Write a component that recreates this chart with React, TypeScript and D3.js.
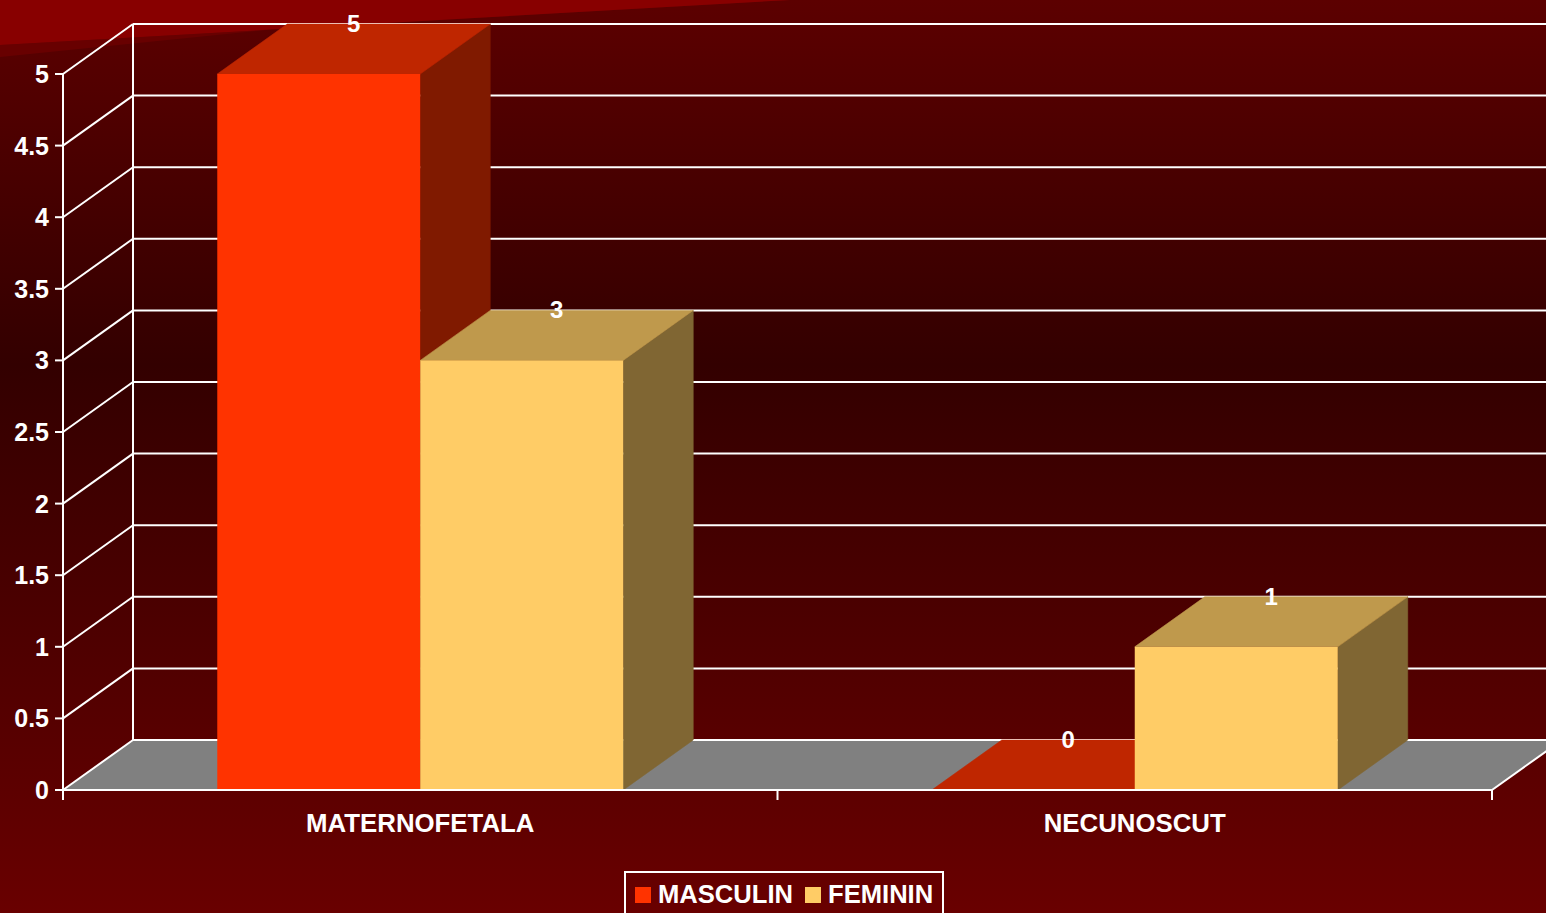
import React from "react";
import * as d3 from "d3";

const categories = ["MATERNOFETALA", "NECUNOSCUT"];
const series = ["MASCULIN", "FEMININ"];
const masculinValues = [5, 0];
const femininValues = [3, 1];
const yTicks = [0, 0.5, 1, 1.5, 2, 2.5, 3, 3.5, 4, 4.5, 5];

const W = 1546;
const H = 913;
const DX = 70;
const DY = -50;
const FONT = "'Liberation Sans', Arial, sans-serif";

const faceColors: Record<string, { front: string; top: string; side: string }> = {
  MASCULIN: { front: "#FF3300", top: "#BF2600", side: "#801A00" },
  FEMININ: { front: "#FFCC66", top: "#BF994C", side: "#806633" },
};

export default function App() {
  const x = d3.scaleBand<string>().domain(categories).range([63, 1492]);
  const y = d3.scaleLinear().domain([0, 5]).range([790, 74]);
  const inner = d3
    .scaleBand<string>()
    .domain(series)
    .range([0, x.bandwidth()])
    .paddingInner(0)
    .paddingOuter(0.76);

  const valuesBySeries: Record<string, number[]> = {
    MASCULIN: masculinValues,
    FEMININ: femininValues,
  };

  const y0 = y(0);
  const xL = 63;
  const xR = 1492;
  const bars: JSX.Element[] = [];
  const labels: JSX.Element[] = [];
  categories.forEach((c, ci) => {
    series.forEach((s) => {
      const v = valuesBySeries[s][ci];
      const bx = (x(c) as number) + (inner(s) as number);
      const bw = inner.bandwidth();
      const ty = y(v);
      const col = faceColors[s];
      const key = `${c}-${s}`;
      bars.push(
        <g key={key}>
          {v > 0 && (
            <polygon
              points={`${bx + bw},${ty} ${bx + bw + DX},${ty + DY} ${bx + bw + DX},${y0 + DY} ${bx + bw},${y0}`}
              fill={col.side}
              stroke={col.side}
              strokeWidth={0.6}
            />
          )}
          <polygon
            points={`${bx},${ty} ${bx + bw},${ty} ${bx + bw + DX},${ty + DY} ${bx + DX},${ty + DY}`}
            fill={col.top}
            stroke={col.top}
            strokeWidth={0.6}
          />
          {v > 0 && (
            <rect x={bx} y={ty} width={bw} height={y0 - ty} fill={col.front} />
          )}
        </g>
      );
      labels.push(
        <text
          key={key + "-l"}
          x={bx + bw / 2 + DX / 2}
          y={ty + DY + 8}
          textAnchor="middle"
          fill="#ffffff"
          fontFamily={FONT}
          fontWeight="bold"
          fontSize={24}
        >
          {v}
        </text>
      );
    });
  });

  return (
    <svg
      width={W}
      height={H}
      style={{ position: "fixed", left: 0, top: 0, display: "block" }}
    >
      <defs>
        <linearGradient id="bg" x1="0" y1="0" x2="0" y2="1">
          <stop offset="0" stopColor="#5c0000" />
          <stop offset="0.4" stopColor="#330000" />
          <stop offset="1" stopColor="#690000" />
        </linearGradient>
      </defs>
      <rect x={0} y={0} width={W} height={H} fill="url(#bg)" />
      <polygon points="0,45 790,0 560,0 0,57" fill="#680000" />
      <polygon points="0,0 790,0 0,45" fill="#880000" />

      {/* floor */}
      <polygon
        points={`${xL},${y0} ${xR},${y0} ${xR + DX},${y0 + DY} ${xL + DX},${y0 + DY}`}
        fill="#808080"
      />

      {/* back wall gridlines */}
      {yTicks.map((t) => (
        <line
          key={"g" + t}
          x1={xL + DX}
          x2={W + 20}
          y1={y(t) + DY}
          y2={y(t) + DY}
          stroke="#ffffff"
          strokeWidth={2}
        />
      ))}
      {/* left wall */}
      <line x1={xL + DX} x2={xL + DX} y1={y(5) + DY} y2={y0 + DY} stroke="#fff" strokeWidth={2} />
      {yTicks.map((t) => (
        <line
          key={"d" + t}
          x1={xL}
          y1={y(t)}
          x2={xL + DX}
          y2={y(t) + DY}
          stroke="#fff"
          strokeWidth={2}
        />
      ))}
      {/* floor right edge */}
      <line x1={xR} y1={y0} x2={xR + DX} y2={y0 + DY} stroke="#fff" strokeWidth={2} />

      {bars}

      {/* front axis */}
      <line x1={xL} x2={xL} y1={y(5)} y2={y0 + 10} stroke="#fff" strokeWidth={2} />
      <line x1={xL} x2={xR} y1={y0} y2={y0} stroke="#fff" strokeWidth={2} />
      {yTicks.map((t) => (
        <g key={"t" + t}>
          <line x1={xL - 8} x2={xL} y1={y(t)} y2={y(t)} stroke="#fff" strokeWidth={2} />
          <text
            x={xL - 14}
            y={y(t) + 9}
            textAnchor="end"
            fill="#fff"
            fontFamily={FONT}
            fontWeight="bold"
            fontSize={25}
          >
            {t}
          </text>
        </g>
      ))}
      {[xL, ...categories.map((c) => (x(c) as number) + x.bandwidth())].map((px, i) => (
        <line key={"ct" + i} x1={px} x2={px} y1={y0} y2={y0 + 10} stroke="#fff" strokeWidth={2} />
      ))}
      {categories.map((c) => (
        <text
          key={"cl" + c}
          x={(x(c) as number) + x.bandwidth() / 2}
          y={y0 + 42}
          textAnchor="middle"
          fill="#fff"
          fontFamily={FONT}
          fontWeight="bold"
          fontSize={25.8}
        >
          {c}
        </text>
      ))}

      {labels}

      {/* legend */}
      <rect x={625} y={872} width={318} height={60} fill="none" stroke="#fff" strokeWidth={2} />
      {series.map((s, i) => {
        const lx = i === 0 ? 635 : 805;
        return (
          <g key={"lg" + s}>
            <rect x={lx} y={887} width={16} height={16} fill={faceColors[s].front} />
            <text
              x={lx + 23}
              y={903}
              fill="#fff"
              fontFamily={FONT}
              fontWeight="bold"
              fontSize={25.6}
            >
              {s}
            </text>
          </g>
        );
      })}
    </svg>
  );
}
